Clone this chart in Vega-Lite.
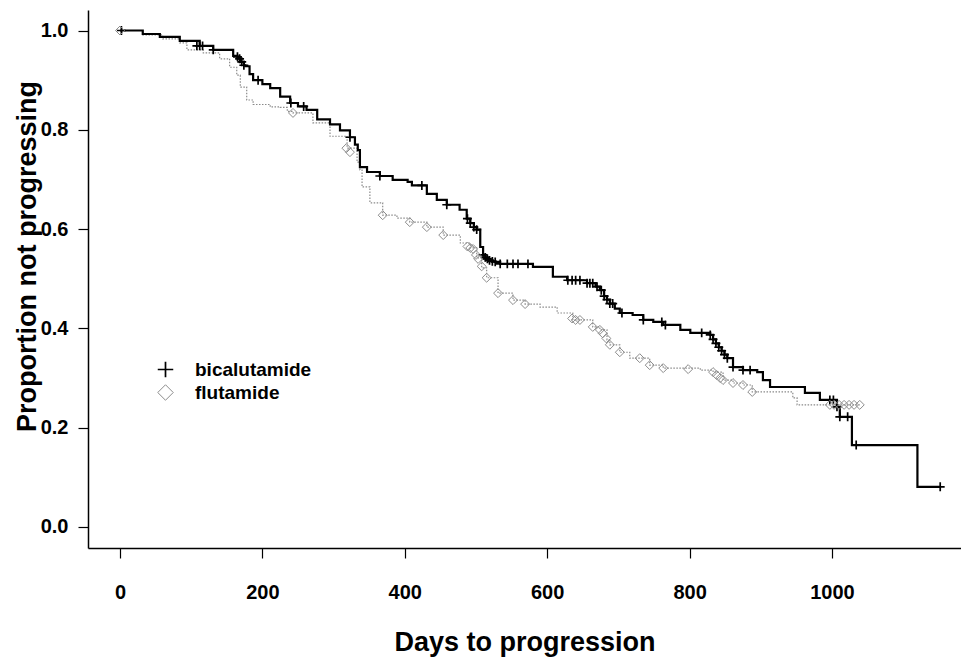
{
  "$schema": "https://vega.github.io/schema/vega-lite/v6.json",
  "width": 873,
  "height": 538,
  "autosize": {"type": "none"},
  "padding": {"left": 88, "top": 10, "right": 0, "bottom": 110},
  "background": "white",
  "config": {
    "view": {"stroke": null},
    "font": "Liberation Sans"
  },
  "datasets": {
    "bic": [
      {"day": 0, "surv": 1.0}, {"day": 32, "surv": 0.993}, {"day": 56, "surv": 0.987}, {"day": 84, "surv": 0.979},
      {"day": 112, "surv": 0.969}, {"day": 131, "surv": 0.961}, {"day": 159, "surv": 0.949}, {"day": 165, "surv": 0.947},
      {"day": 168, "surv": 0.943}, {"day": 170, "surv": 0.937}, {"day": 174, "surv": 0.930}, {"day": 176, "surv": 0.928},
      {"day": 182, "surv": 0.912}, {"day": 187, "surv": 0.900}, {"day": 200, "surv": 0.892}, {"day": 211, "surv": 0.884},
      {"day": 225, "surv": 0.867}, {"day": 239, "surv": 0.854}, {"day": 250, "surv": 0.847}, {"day": 262, "surv": 0.840},
      {"day": 277, "surv": 0.821}, {"day": 295, "surv": 0.811}, {"day": 309, "surv": 0.799}, {"day": 323, "surv": 0.785},
      {"day": 330, "surv": 0.770}, {"day": 334, "surv": 0.759}, {"day": 337, "surv": 0.725}, {"day": 347, "surv": 0.715},
      {"day": 365, "surv": 0.707}, {"day": 383, "surv": 0.699}, {"day": 404, "surv": 0.695}, {"day": 410, "surv": 0.688},
      {"day": 431, "surv": 0.671}, {"day": 445, "surv": 0.659}, {"day": 459, "surv": 0.649}, {"day": 477, "surv": 0.639},
      {"day": 487, "surv": 0.621}, {"day": 492, "surv": 0.612}, {"day": 497, "surv": 0.604}, {"day": 501, "surv": 0.599},
      {"day": 506, "surv": 0.564}, {"day": 510, "surv": 0.548}, {"day": 513, "surv": 0.543}, {"day": 516, "surv": 0.540},
      {"day": 519, "surv": 0.537}, {"day": 523, "surv": 0.535}, {"day": 527, "surv": 0.534}, {"day": 534, "surv": 0.530},
      {"day": 580, "surv": 0.524}, {"day": 608, "surv": 0.504}, {"day": 628, "surv": 0.497}, {"day": 656, "surv": 0.491},
      {"day": 668, "surv": 0.484}, {"day": 674, "surv": 0.477}, {"day": 680, "surv": 0.465}, {"day": 684, "surv": 0.458},
      {"day": 688, "surv": 0.450}, {"day": 695, "surv": 0.440}, {"day": 702, "surv": 0.431}, {"day": 720, "surv": 0.427},
      {"day": 735, "surv": 0.417}, {"day": 749, "surv": 0.413}, {"day": 763, "surv": 0.407}, {"day": 787, "surv": 0.397},
      {"day": 801, "surv": 0.391}, {"day": 829, "surv": 0.387}, {"day": 833, "surv": 0.378}, {"day": 837, "surv": 0.370},
      {"day": 841, "surv": 0.362}, {"day": 845, "surv": 0.355}, {"day": 849, "surv": 0.347}, {"day": 853, "surv": 0.340},
      {"day": 861, "surv": 0.322}, {"day": 875, "surv": 0.316}, {"day": 895, "surv": 0.312}, {"day": 903, "surv": 0.296},
      {"day": 913, "surv": 0.282}, {"day": 962, "surv": 0.270}, {"day": 983, "surv": 0.256}, {"day": 1007, "surv": 0.242},
      {"day": 1011, "surv": 0.222}, {"day": 1028, "surv": 0.165}, {"day": 1120, "surv": 0.081}, {"day": 1152, "surv": 0.081}
    ],
    "flu": [
      {"day": 0, "surv": 1.0}, {"day": 32, "surv": 0.991}, {"day": 60, "surv": 0.983}, {"day": 84, "surv": 0.975},
      {"day": 94, "surv": 0.961}, {"day": 117, "surv": 0.955}, {"day": 140, "surv": 0.943}, {"day": 154, "surv": 0.926},
      {"day": 164, "surv": 0.910}, {"day": 169, "surv": 0.886}, {"day": 178, "surv": 0.860}, {"day": 187, "surv": 0.851},
      {"day": 211, "surv": 0.846}, {"day": 225, "surv": 0.845}, {"day": 235, "surv": 0.837}, {"day": 243, "surv": 0.834},
      {"day": 271, "surv": 0.814}, {"day": 295, "surv": 0.787}, {"day": 319, "surv": 0.763}, {"day": 333, "surv": 0.735},
      {"day": 337, "surv": 0.719}, {"day": 340, "surv": 0.685}, {"day": 351, "surv": 0.653}, {"day": 369, "surv": 0.628},
      {"day": 389, "surv": 0.622}, {"day": 407, "surv": 0.614}, {"day": 431, "surv": 0.604}, {"day": 454, "surv": 0.588},
      {"day": 478, "surv": 0.572}, {"day": 492, "surv": 0.562}, {"day": 501, "surv": 0.542}, {"day": 508, "surv": 0.522},
      {"day": 515, "surv": 0.502}, {"day": 531, "surv": 0.471}, {"day": 552, "surv": 0.457}, {"day": 569, "surv": 0.449},
      {"day": 590, "surv": 0.443}, {"day": 614, "surv": 0.431}, {"day": 636, "surv": 0.417}, {"day": 664, "surv": 0.403},
      {"day": 674, "surv": 0.397}, {"day": 684, "surv": 0.377}, {"day": 688, "surv": 0.367}, {"day": 702, "surv": 0.352},
      {"day": 716, "surv": 0.340}, {"day": 744, "surv": 0.326}, {"day": 763, "surv": 0.320}, {"day": 815, "surv": 0.316},
      {"day": 833, "surv": 0.312}, {"day": 847, "surv": 0.296}, {"day": 861, "surv": 0.290}, {"day": 875, "surv": 0.286},
      {"day": 888, "surv": 0.272}, {"day": 945, "surv": 0.260}, {"day": 951, "surv": 0.246}, {"day": 1039, "surv": 0.246}
    ],
    "cens": [
      {"day": 2, "surv": 1.0, "group": "bicalutamide"}, {"day": 108, "surv": 0.969, "group": "bicalutamide"},
      {"day": 112, "surv": 0.969, "group": "bicalutamide"}, {"day": 116, "surv": 0.969, "group": "bicalutamide"},
      {"day": 131, "surv": 0.961, "group": "bicalutamide"}, {"day": 165, "surv": 0.947, "group": "bicalutamide"},
      {"day": 168, "surv": 0.943, "group": "bicalutamide"}, {"day": 171, "surv": 0.937, "group": "bicalutamide"},
      {"day": 174, "surv": 0.930, "group": "bicalutamide"}, {"day": 194, "surv": 0.900, "group": "bicalutamide"},
      {"day": 240, "surv": 0.854, "group": "bicalutamide"}, {"day": 258, "surv": 0.847, "group": "bicalutamide"},
      {"day": 323, "surv": 0.785, "group": "bicalutamide"}, {"day": 365, "surv": 0.707, "group": "bicalutamide"},
      {"day": 424, "surv": 0.688, "group": "bicalutamide"}, {"day": 459, "surv": 0.649, "group": "bicalutamide"},
      {"day": 488, "surv": 0.621, "group": "bicalutamide"}, {"day": 492, "surv": 0.612, "group": "bicalutamide"},
      {"day": 497, "surv": 0.604, "group": "bicalutamide"}, {"day": 501, "surv": 0.599, "group": "bicalutamide"},
      {"day": 510, "surv": 0.548, "group": "bicalutamide"}, {"day": 513, "surv": 0.543, "group": "bicalutamide"},
      {"day": 516, "surv": 0.540, "group": "bicalutamide"}, {"day": 519, "surv": 0.537, "group": "bicalutamide"},
      {"day": 523, "surv": 0.535, "group": "bicalutamide"}, {"day": 527, "surv": 0.534, "group": "bicalutamide"},
      {"day": 534, "surv": 0.530, "group": "bicalutamide"}, {"day": 544, "surv": 0.530, "group": "bicalutamide"},
      {"day": 552, "surv": 0.530, "group": "bicalutamide"}, {"day": 559, "surv": 0.530, "group": "bicalutamide"},
      {"day": 573, "surv": 0.530, "group": "bicalutamide"}, {"day": 629, "surv": 0.497, "group": "bicalutamide"},
      {"day": 635, "surv": 0.497, "group": "bicalutamide"}, {"day": 640, "surv": 0.497, "group": "bicalutamide"},
      {"day": 646, "surv": 0.497, "group": "bicalutamide"}, {"day": 656, "surv": 0.491, "group": "bicalutamide"},
      {"day": 660, "surv": 0.491, "group": "bicalutamide"}, {"day": 664, "surv": 0.491, "group": "bicalutamide"},
      {"day": 670, "surv": 0.484, "group": "bicalutamide"}, {"day": 676, "surv": 0.477, "group": "bicalutamide"},
      {"day": 680, "surv": 0.465, "group": "bicalutamide"}, {"day": 684, "surv": 0.458, "group": "bicalutamide"},
      {"day": 688, "surv": 0.450, "group": "bicalutamide"}, {"day": 692, "surv": 0.450, "group": "bicalutamide"},
      {"day": 705, "surv": 0.431, "group": "bicalutamide"}, {"day": 735, "surv": 0.417, "group": "bicalutamide"},
      {"day": 761, "surv": 0.413, "group": "bicalutamide"}, {"day": 766, "surv": 0.407, "group": "bicalutamide"},
      {"day": 817, "surv": 0.391, "group": "bicalutamide"}, {"day": 829, "surv": 0.387, "group": "bicalutamide"},
      {"day": 833, "surv": 0.378, "group": "bicalutamide"}, {"day": 837, "surv": 0.370, "group": "bicalutamide"},
      {"day": 841, "surv": 0.362, "group": "bicalutamide"}, {"day": 845, "surv": 0.355, "group": "bicalutamide"},
      {"day": 849, "surv": 0.347, "group": "bicalutamide"}, {"day": 853, "surv": 0.340, "group": "bicalutamide"},
      {"day": 861, "surv": 0.322, "group": "bicalutamide"}, {"day": 875, "surv": 0.316, "group": "bicalutamide"},
      {"day": 885, "surv": 0.316, "group": "bicalutamide"}, {"day": 997, "surv": 0.256, "group": "bicalutamide"},
      {"day": 1002, "surv": 0.256, "group": "bicalutamide"}, {"day": 1007, "surv": 0.242, "group": "bicalutamide"},
      {"day": 1011, "surv": 0.222, "group": "bicalutamide"}, {"day": 1022, "surv": 0.222, "group": "bicalutamide"},
      {"day": 1034, "surv": 0.165, "group": "bicalutamide"}, {"day": 1152, "surv": 0.081, "group": "bicalutamide"},
      {"day": 0, "surv": 1.0, "group": "flutamide"}, {"day": 243, "surv": 0.834, "group": "flutamide"},
      {"day": 318, "surv": 0.763, "group": "flutamide"}, {"day": 323, "surv": 0.755, "group": "flutamide"},
      {"day": 369, "surv": 0.628, "group": "flutamide"}, {"day": 407, "surv": 0.614, "group": "flutamide"},
      {"day": 431, "surv": 0.604, "group": "flutamide"}, {"day": 454, "surv": 0.588, "group": "flutamide"},
      {"day": 488, "surv": 0.565, "group": "flutamide"}, {"day": 492, "surv": 0.562, "group": "flutamide"},
      {"day": 496, "surv": 0.560, "group": "flutamide"}, {"day": 500, "surv": 0.548, "group": "flutamide"},
      {"day": 503, "surv": 0.540, "group": "flutamide"}, {"day": 508, "surv": 0.525, "group": "flutamide"},
      {"day": 515, "surv": 0.502, "group": "flutamide"}, {"day": 531, "surv": 0.471, "group": "flutamide"},
      {"day": 552, "surv": 0.457, "group": "flutamide"}, {"day": 569, "surv": 0.449, "group": "flutamide"},
      {"day": 635, "surv": 0.420, "group": "flutamide"}, {"day": 640, "surv": 0.417, "group": "flutamide"},
      {"day": 646, "surv": 0.417, "group": "flutamide"}, {"day": 664, "surv": 0.403, "group": "flutamide"},
      {"day": 674, "surv": 0.397, "group": "flutamide"}, {"day": 678, "surv": 0.390, "group": "flutamide"},
      {"day": 683, "surv": 0.380, "group": "flutamide"}, {"day": 688, "surv": 0.367, "group": "flutamide"},
      {"day": 702, "surv": 0.352, "group": "flutamide"}, {"day": 730, "surv": 0.340, "group": "flutamide"},
      {"day": 744, "surv": 0.326, "group": "flutamide"}, {"day": 763, "surv": 0.320, "group": "flutamide"},
      {"day": 798, "surv": 0.318, "group": "flutamide"}, {"day": 833, "surv": 0.312, "group": "flutamide"},
      {"day": 838, "surv": 0.306, "group": "flutamide"}, {"day": 843, "surv": 0.300, "group": "flutamide"},
      {"day": 847, "surv": 0.296, "group": "flutamide"}, {"day": 861, "surv": 0.290, "group": "flutamide"},
      {"day": 875, "surv": 0.286, "group": "flutamide"}, {"day": 888, "surv": 0.272, "group": "flutamide"},
      {"day": 997, "surv": 0.246, "group": "flutamide"}, {"day": 1003, "surv": 0.246, "group": "flutamide"},
      {"day": 1010, "surv": 0.246, "group": "flutamide"}, {"day": 1017, "surv": 0.246, "group": "flutamide"},
      {"day": 1024, "surv": 0.246, "group": "flutamide"}, {"day": 1031, "surv": 0.246, "group": "flutamide"},
      {"day": 1039, "surv": 0.246, "group": "flutamide"}
    ]
  },
  "encoding": {
    "x": {
      "field": "day", "type": "quantitative",
      "scale": {"domain": [-44.9, 1181.2], "nice": false, "zero": false},
      "axis": {
        "title": "Days to progression",
        "values": [0, 200, 400, 600, 800, 1000],
        "format": "d",
        "grid": false,
        "domainColor": "black", "domainWidth": 1.5,
        "tickColor": "black", "tickSize": 10, "tickWidth": 1.2,
        "labelFontSize": 20, "labelFontWeight": "bold", "labelColor": "black",
        "labelPadding": 24, "labelFlush": false, "labelOverlap": false,
        "titleFontSize": 27, "titleFontWeight": "bold", "titleColor": "black",
        "titleY": 94, "titleBaseline": "middle"
      }
    },
    "y": {
      "field": "surv", "type": "quantitative",
      "scale": {"domain": [-0.0423, 1.0413], "nice": false, "zero": false},
      "axis": {
        "title": "Proportion not progressing",
        "values": [0, 0.2, 0.4, 0.6, 0.8, 1.0],
        "format": ".1f",
        "grid": false,
        "domainColor": "black", "domainWidth": 1.5,
        "tickColor": "black", "tickSize": 10, "tickWidth": 1.2,
        "labelFontSize": 20, "labelFontWeight": "bold", "labelColor": "black",
        "labelPadding": 10, "labelFlush": false, "labelOverlap": false,
        "titleFontSize": 27, "titleFontWeight": "bold", "titleColor": "black",
        "titleAngle": 270, "titleX": -61, "titleY": 246, "titleBaseline": "middle"
      }
    }
  },
  "layer": [
    {
      "data": {"name": "flu"},
      "mark": {"type": "line", "interpolate": "step-after", "color": "#8a8a8a", "strokeWidth": 1.2, "strokeDash": [1.5, 1.5]}
    },
    {
      "data": {"name": "bic"},
      "mark": {"type": "line", "interpolate": "step-after", "color": "#000000", "strokeWidth": 2.2}
    },
    {
      "data": {"name": "cens"},
      "mark": {"type": "point", "filled": false, "size": 80, "opacity": 1},
      "encoding": {
        "shape": {
          "field": "group", "type": "nominal",
          "scale": {"domain": ["bicalutamide", "flutamide"], "range": ["M-1,0L1,0M0,-1L0,1", "diamond"]},
          "legend": {
            "title": null, "orient": "none", "legendX": 68, "legendY": 350,
            "symbolSize": 240, "symbolStrokeWidth": 1.3,
            "labelFontSize": 19, "labelFontWeight": "bold", "labelColor": "black",
            "labelOffset": 20, "rowPadding": 1, "padding": 0
          }
        },
        "color": {
          "field": "group", "type": "nominal",
          "scale": {"domain": ["bicalutamide", "flutamide"], "range": ["#000000", "#8c8c8c"]},
          "legend": {
            "title": null, "orient": "none", "legendX": 68, "legendY": 350,
            "symbolSize": 240, "symbolStrokeWidth": 1.3,
            "labelFontSize": 19, "labelFontWeight": "bold", "labelColor": "black",
            "labelOffset": 20, "rowPadding": 1, "padding": 0
          }
        },
        "strokeWidth": {
          "field": "group", "type": "nominal",
          "scale": {"domain": ["bicalutamide", "flutamide"], "range": [1.7, 1]},
          "legend": null
        }
      }
    }
  ]
}
